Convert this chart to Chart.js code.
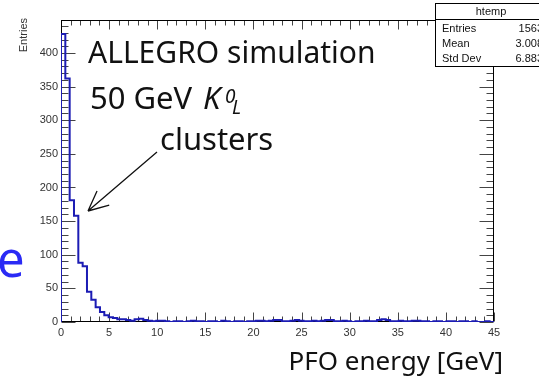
<!DOCTYPE html>
<html>
<head>
<meta charset="utf-8">
<script src="https://cdn.jsdelivr.net/npm/chart.js@4.4.0/dist/chart.umd.min.js"></script>
<style>
  html, body { margin: 0; padding: 0; background: #fff; }
  #wrap { width: 539px; height: 382px; position: relative; }
</style>
</head>
<body>
<div id="wrap"><canvas id="histo" width="539" height="382"></canvas></div>
<script>
// PFO energy histogram, 100 bins of 0.45 GeV from 0 to 45
const binLow = 0;
const binWidth = 0.45;
const binCounts = [
  428, 362, 181, 158, 88, 83, 45, 33, 22, 15,
  10, 7, 6, 4, 4, 3, 2, 4, 5, 3,
  2, 1, 2, 2, 1, 0, 1, 1, 0, 1,
  2, 1, 1, 0, 1, 1, 0, 2, 1, 0,
  1, 1, 0, 1, 1, 2, 2, 1, 2, 3,
  3, 1, 1, 2, 3, 2, 1, 1, 2, 1,
  2, 3, 3, 1, 1, 2, 1, 0, 1, 1,
  2, 1, 1, 3, 4, 3, 1, 1, 2, 1,
  1, 2, 2, 1, 1, 0, 1, 1, 0, 1,
  1, 0, 1, 1, 0, 1, 0, 0, 1, 0
];
const xRange = [0, 45];
const yRange = [0, 449];
const xTickLabels = [0, 5, 10, 15, 20, 25, 30, 35, 40, 45];
const yTickLabels = [0, 50, 100, 150, 200, 250, 300, 350, 400];

// stats box
const statTitle = 'htemp';
const statNames = ['Entries', 'Mean', 'Std Dev'];
const statValues = ['1563', '3.008', '6.883'];

const rootFont = '"Liberation Sans", Arial, sans-serif';
const slideFont = '"Noto Sans", sans-serif';
const lineBlue = '#1c1cb4';

// step outline: left edge of every bin, closed down to zero at both ends
const outline = [{ x: binLow, y: 0 }];
binCounts.forEach((c, i) => outline.push({ x: binLow + i * binWidth, y: c }));
outline.push({ x: binLow + binCounts.length * binWidth, y: 0 });

// frame with inward ticks on all four sides, like a ROOT pad
const rootFrame = {
    id: 'rootFrame',
    beforeDatasetsDraw(chart) {
        const { ctx, chartArea: ca, scales } = chart;
        const L = Math.round(ca.left) + 0.5, R = Math.round(ca.right) - 0.5;
        const T = Math.round(ca.top) + 0.5, B = Math.round(ca.bottom) - 0.5;
        ctx.save();
        ctx.lineWidth = 1;
        ctx.strokeStyle = '#444';
        ctx.beginPath();
        for (let v = xRange[0]; v <= xRange[1]; v += 1) {
            const px = Math.round(scales.x.getPixelForValue(v)) + 0.5;
            const len = v % 5 === 0 ? 9 : 5;
            ctx.moveTo(px, B); ctx.lineTo(px, B - len);
            ctx.moveTo(px, T); ctx.lineTo(px, T + len);
        }
        for (let v = 0; v <= yRange[1]; v += 10) {
            const py = Math.round(scales.y.getPixelForValue(v)) + 0.5;
            const len = v % 50 === 0 ? 14 : 7;
            ctx.moveTo(L, py); ctx.lineTo(L + len, py);
            ctx.moveTo(R, py); ctx.lineTo(R - len, py);
        }
        ctx.stroke();
        ctx.strokeStyle = '#000';
        ctx.strokeRect(L, T, R - L, B - T);

        // y labels, right aligned next to the axis
        ctx.font = '11px ' + rootFont;
        ctx.fillStyle = '#333';
        ctx.textAlign = 'right';
        ctx.textBaseline = 'middle';
        yTickLabels.forEach(v => {
            ctx.fillText(String(v), ca.left - 3, scales.y.getPixelForValue(v));
        });
        ctx.restore();
    }
};

// stats box, axis title and the slide annotations
const overlay = {
    id: 'overlay',
    afterDraw(chart) {
        const { ctx } = chart;
        ctx.save();

        // y axis title
        ctx.save();
        ctx.translate(27, 18);
        ctx.rotate(-Math.PI / 2);
        ctx.font = '11px ' + rootFont;
        ctx.fillStyle = '#333';
        ctx.textAlign = 'right';
        ctx.textBaseline = 'alphabetic';
        ctx.fillText('Entries', 0, 0);
        ctx.restore();

        // stats box
        ctx.fillStyle = '#fff';
        ctx.fillRect(435.5, 3.5, 120, 63);
        ctx.strokeStyle = '#000';
        ctx.lineWidth = 1;
        ctx.strokeRect(435.5, 3.5, 120, 63);
        ctx.beginPath();
        ctx.moveTo(435.5, 19.5); ctx.lineTo(540, 19.5);
        ctx.stroke();
        ctx.font = '11px ' + rootFont;
        ctx.fillStyle = '#111';
        ctx.textAlign = 'center';
        ctx.fillText(statTitle, 491, 15);
        statNames.forEach((n, i) => {
            const by = 32 + i * 15;
            ctx.textAlign = 'left';
            ctx.fillText(n, 442, by);
            ctx.textAlign = 'right';
            ctx.fillText(statValues[i], 543, by);
        });

        // annotation text
        ctx.fillStyle = '#111';
        ctx.textAlign = 'left';
        ctx.font = '30px ' + slideFont;
        ctx.fillText('ALLEGRO simulation', 88, 63);
        ctx.font = '31px ' + slideFont;
        ctx.fillText('50 GeV', 90, 109);
        ctx.font = 'italic 31px ' + slideFont;
        ctx.fillText('K', 203, 109);
        ctx.font = 'italic 19px ' + slideFont;
        ctx.fillText('0', 225, 103);
        ctx.fillText('L', 232, 114);
        ctx.font = '31px ' + slideFont;
        ctx.fillText('clusters', 160, 150);

        // arrow pointing at the peak
        const tail = [157, 152], tip = [88, 211];
        const ang = Math.atan2(tail[1] - tip[1], tail[0] - tip[0]);
        ctx.strokeStyle = '#111';
        ctx.lineWidth = 1.3;
        ctx.beginPath();
        ctx.moveTo(tail[0], tail[1]); ctx.lineTo(tip[0], tip[1]);
        [-0.44, 0.44].forEach(d => {
            ctx.moveTo(tip[0], tip[1]);
            ctx.lineTo(tip[0] + 22 * Math.cos(ang + d), tip[1] + 22 * Math.sin(ang + d));
        });
        ctx.stroke();

        // leftover letter from the slide text beside the plot
        ctx.fillStyle = '#2a2af5';
        ctx.font = '49px ' + slideFont;
        ctx.fillText('e', -3, 277);

        // x axis title
        ctx.fillStyle = '#111';
        ctx.font = '26px ' + slideFont;
        ctx.textAlign = 'right';
        ctx.fillText('PFO energy [GeV]', 503, 370);

        ctx.restore();
    }
};

new Chart(document.getElementById('histo'), {
    type: 'line',
    data: {
        datasets: [{
            data: outline,
            stepped: 'before',
            borderColor: lineBlue,
            borderWidth: 2,
            pointRadius: 0,
            fill: false
        }]
    },
    options: {
        responsive: false,
        animation: false,
        devicePixelRatio: 1,
        layout: { padding: { top: 20, right: 45, left: 0, bottom: 0 } },
        plugins: { legend: { display: false }, tooltip: { enabled: false } },
        scales: {
            x: {
                type: 'linear',
                min: xRange[0],
                max: xRange[1],
                grid: { display: false, drawTicks: false },
                border: { display: false },
                afterBuildTicks(s) { s.ticks = xTickLabels.map(v => ({ value: v })); },
                ticks: {
                    autoSkip: false,
                    maxRotation: 0,
                    padding: 4,
                    color: '#333',
                    font: { family: rootFont, size: 11 }
                },
                afterFit(s) { s.height = 60; }
            },
            y: {
                min: yRange[0],
                max: yRange[1],
                grid: { display: false, drawTicks: false },
                border: { display: false },
                ticks: { display: false },
                afterFit(s) { s.width = 61; }
            }
        }
    },
    plugins: [rootFrame, overlay]
});
</script>
</body>
</html>
